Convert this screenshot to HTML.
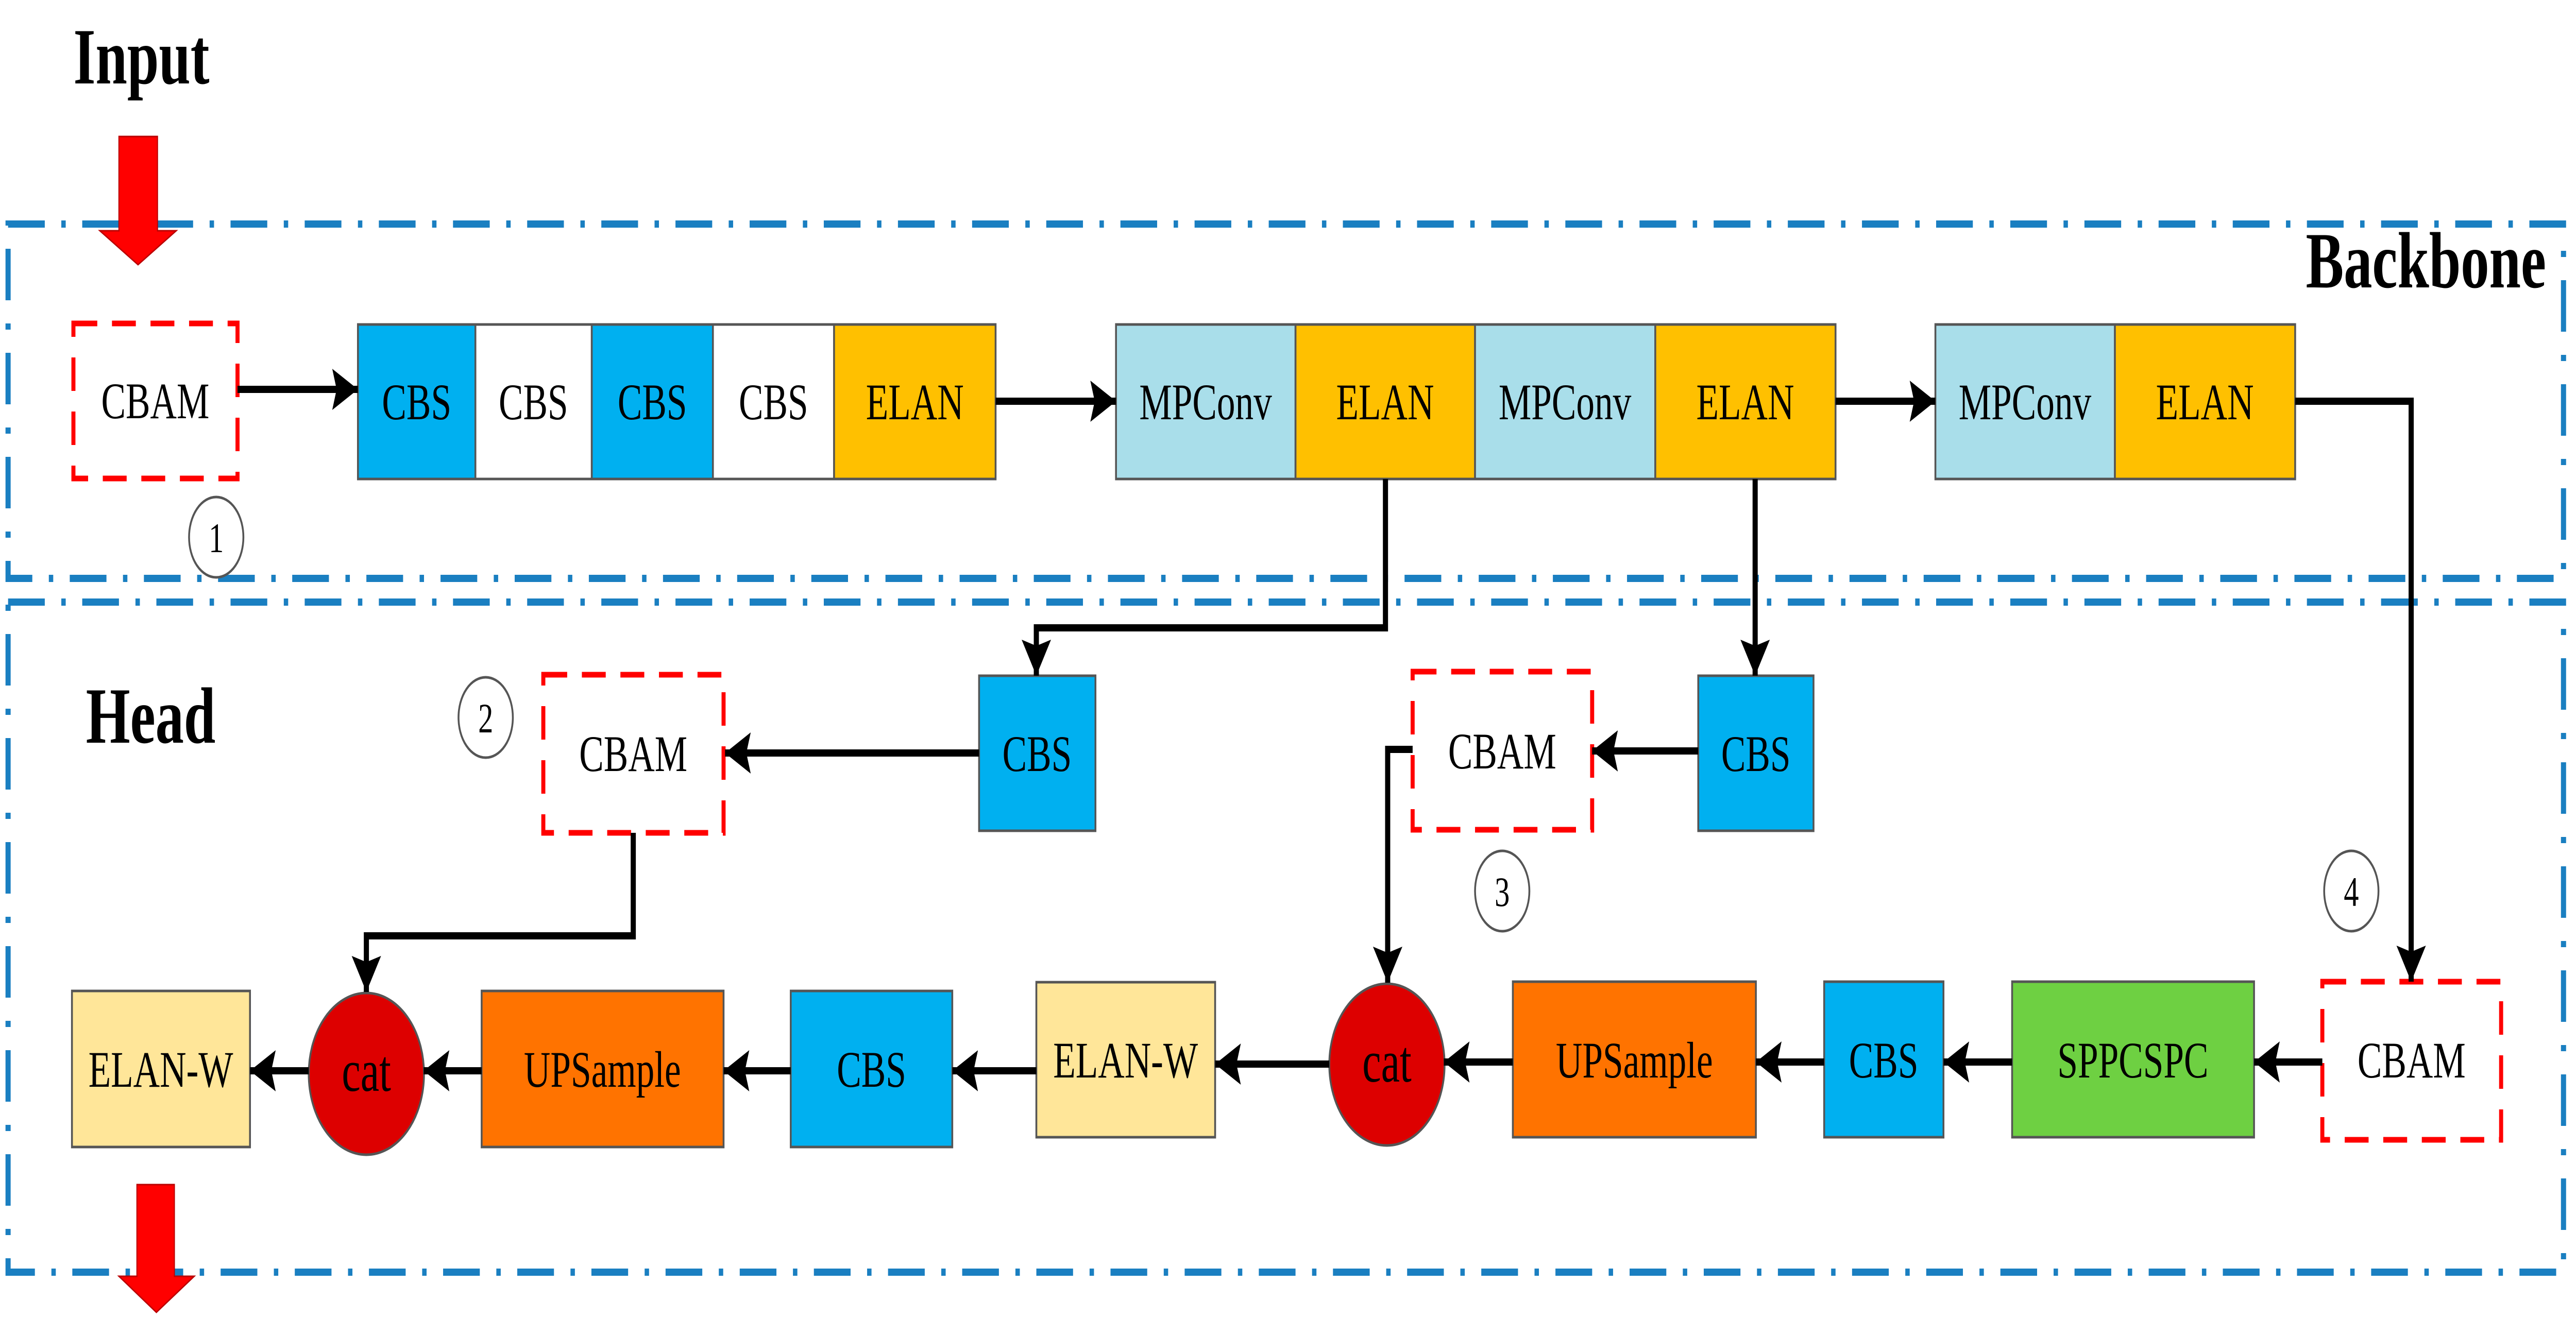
<!DOCTYPE html>
<html><head><meta charset="utf-8"><style>
html,body{margin:0;padding:0;background:#fff;width:100%;height:100%;overflow:hidden;}
svg{display:block;width:100vw;height:100vh;}
text{font-family:"Liberation Serif",serif;}
</style></head><body>
<svg viewBox="0 0 7017 2592" preserveAspectRatio="none" xmlns="http://www.w3.org/2000/svg">
<defs>
<marker id="a" markerUnits="userSpaceOnUse" markerWidth="80" markerHeight="90" refX="70" refY="45" orient="auto">
<polygon points="0,5 70,45 0,85 12,45" fill="#000"/>
</marker>
</defs>

<g fill="none" stroke="#1a7fc1" stroke-width="14" stroke-dasharray="100 45 12 45">
<rect x="22" y="435" width="6961" height="688"/>
<path d="M22 1169 H6983 V2470 H22 Z"/>
</g>

<text x="200" y="162" font-size="155" font-weight="bold">Input</text>
<text x="6281" y="558" font-size="155" font-weight="bold">Backbone</text>
<text x="234" y="1442" font-size="155" font-weight="bold">Head</text>

<polygon points="324,265 429,265 429,448 480,448 376,514 272,448 324,448" fill="#f00" stroke="#b00" stroke-width="3"/>
<polygon points="373,2300 475,2300 475,2478 529,2478 426,2548 324,2478 373,2478" fill="#f00" stroke="#b00" stroke-width="3"/>

<g stroke="#555" stroke-width="5">
<rect x="975" y="630" width="320" height="300" fill="#00b0f0"/>
<rect x="1295" y="630" width="317" height="300" fill="#fff"/>
<rect x="1612" y="630" width="330" height="300" fill="#00b0f0"/>
<rect x="1942" y="630" width="330" height="300" fill="#fff"/>
<rect x="2272" y="630" width="440" height="300" fill="#ffc000"/>
<rect x="3040" y="630" width="489" height="300" fill="#a9deea"/>
<rect x="3529" y="630" width="489" height="300" fill="#ffc000"/>
<rect x="4018" y="630" width="491" height="300" fill="#a9deea"/>
<rect x="4509" y="630" width="491" height="300" fill="#ffc000"/>
<rect x="5272" y="630" width="489" height="300" fill="#a9deea"/>
<rect x="5761" y="630" width="491" height="300" fill="#ffc000"/>
<rect x="2667" y="1312" width="317" height="301" fill="#00b0f0"/>
<rect x="4626" y="1312" width="314" height="301" fill="#00b0f0"/>
<rect x="196" y="1924" width="485" height="303" fill="#ffe699"/>
<rect x="1312" y="1924" width="659" height="303" fill="#ff7300"/>
<rect x="2154" y="1924" width="440" height="303" fill="#00b0f0"/>
<rect x="2823" y="1907" width="487" height="301" fill="#ffe699"/>
<rect x="4121" y="1906" width="662" height="302" fill="#ff7300"/>
<rect x="4969" y="1906" width="325" height="302" fill="#00b0f0"/>
<rect x="5481" y="1906" width="659" height="302" fill="#6ed042"/>
<circle cx="998" cy="2085" r="157" fill="#dd0000"/>
<circle cx="3778" cy="2067" r="157" fill="#dd0000"/>
</g>

<g fill="#fff" stroke="#f00" stroke-width="11" stroke-dasharray="65 40">
<rect x="200" y="628" width="447" height="301"/>
<rect x="1480" y="1310" width="491" height="307"/>
<rect x="3848" y="1304" width="489" height="307"/>
<rect x="6326" y="1906" width="487" height="307"/>
</g>

<g fill="#fff" stroke="#555" stroke-width="5">
<ellipse cx="589" cy="1043" rx="74" ry="78"/>
<ellipse cx="1323" cy="1393" rx="74" ry="78"/>
<ellipse cx="4092" cy="1730" rx="74" ry="78"/>
<ellipse cx="6405" cy="1730" rx="74" ry="78"/>
</g>
<g font-size="82" text-anchor="middle">
<text x="589" y="1072">1</text>
<text x="1323" y="1422">2</text>
<text x="4092" y="1759">3</text>
<text x="6405" y="1759">4</text>
</g>

<g fill="none" stroke="#000" stroke-width="14" marker-end="url(#a)">
<path d="M647 756 H975"/>
<path d="M2712 779 H3040"/>
<path d="M5000 779 H5272"/>
<path d="M6252 779 H6568 V1906"/>
<path d="M3774 930 V1219 H2823 V1312"/>
<path d="M4781 930 V1312"/>
<path d="M2667 1462 H1975"/>
<path d="M4626 1458 H4337"/>
<path d="M1725 1617 V1817 H998 V1926"/>
<path d="M3848 1455 H3780 V1908"/>
<path d="M6326 2062 H6140"/>
<path d="M5481 2062 H5294"/>
<path d="M4969 2062 H4783"/>
<path d="M4121 2062 H3933"/>
<path d="M3621 2066 H3310"/>
<path d="M2823 2079 H2594"/>
<path d="M2154 2079 H1971"/>
<path d="M1312 2079 H1154"/>
<path d="M841 2079 H681"/>
</g>

<g font-size="100" text-anchor="middle">
<text x="423" y="812">CBAM</text>
<text x="1135" y="814">CBS</text>
<text x="1453" y="814">CBS</text>
<text x="1777" y="814">CBS</text>
<text x="2107" y="814">CBS</text>
<text x="2492" y="814">ELAN</text>
<text x="3284" y="814">MPConv</text>
<text x="3773" y="814">ELAN</text>
<text x="4263" y="814">MPConv</text>
<text x="4754" y="814">ELAN</text>
<text x="5516" y="814">MPConv</text>
<text x="6006" y="814">ELAN</text>
<text x="1725" y="1497">CBAM</text>
<text x="2825" y="1497">CBS</text>
<text x="4092" y="1492">CBAM</text>
<text x="4783" y="1497">CBS</text>
<text x="438" y="2110">ELAN-W</text>
<text x="1641" y="2110">UPSample</text>
<text x="2374" y="2110">CBS</text>
<text x="3066" y="2092">ELAN-W</text>
<text x="4452" y="2092">UPSample</text>
<text x="5131" y="2092">CBS</text>
<text x="5810" y="2092">SPPCSPC</text>
<text x="6569" y="2092">CBAM</text>
</g>
<g font-size="115" text-anchor="middle">
<text x="998" y="2118">cat</text>
<text x="3778" y="2100">cat</text>
</g>
</svg>
</body></html>
